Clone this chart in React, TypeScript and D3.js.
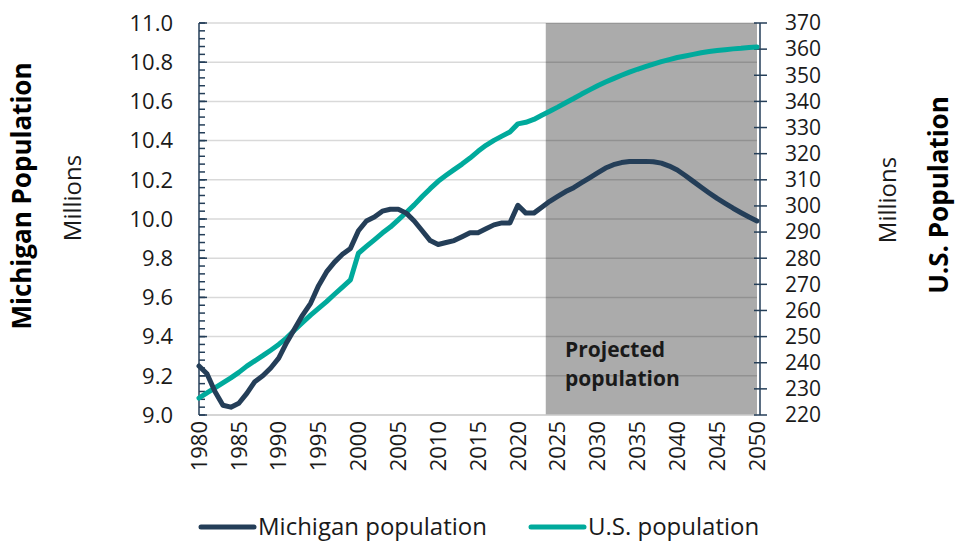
import React from 'react'
import * as d3 from 'd3'

// Michigan vs. U.S. population, 1980-2050 (projected from 2024)
const years: number[] = d3.range(1980, 2051)

const michigan: number[] = [
  9.25, 9.21, 9.12, 9.05, 9.04, 9.06, 9.11, 9.17, 9.2, 9.24,
  9.29, 9.37, 9.44, 9.51, 9.57, 9.66, 9.73, 9.78, 9.82, 9.85,
  9.94, 9.99, 10.01, 10.04, 10.05, 10.05, 10.03, 9.99, 9.94, 9.89,
  9.87, 9.88, 9.89, 9.91, 9.93, 9.93, 9.95, 9.97, 9.98, 9.98,
  10.07, 10.03, 10.03, 10.06, 10.09, 10.115, 10.14, 10.16, 10.185, 10.21,
  10.235, 10.26, 10.277, 10.288, 10.293, 10.294, 10.294, 10.292, 10.285, 10.27,
  10.25, 10.222, 10.192, 10.162, 10.133, 10.105, 10.08, 10.055, 10.032, 10.01,
  9.99,
]

const usa: number[] = [
  226.5, 228.5, 230.4, 232.3, 234.2, 236.3, 238.7, 240.7, 242.7, 244.8,
  247.0, 249.5, 252.5, 255.4, 258.2, 260.8, 263.4, 266.2, 268.9, 271.7,
  281.9, 284.5, 287.0, 289.6, 291.9, 294.7, 297.5, 300.4, 303.6, 306.6,
  309.4, 311.7, 313.9, 316.0, 318.3, 320.9, 323.2, 325.1, 326.7, 328.3,
  331.4, 332.0, 333.1, 334.7, 336.2, 337.8, 339.5, 341.1, 342.8, 344.4,
  346.0, 347.4, 348.7, 350.0, 351.2, 352.3, 353.3, 354.3, 355.2, 356.0,
  356.8, 357.4, 358.0, 358.6, 359.1, 359.5, 359.8, 360.1, 360.3, 360.6,
  360.8,
]

const leftTicks: number[] = [9.0, 9.2, 9.4, 9.6, 9.8, 10.0, 10.2, 10.4, 10.6, 10.8, 11.0]
const rightTicks: number[] = [220, 230, 240, 250, 260, 270, 280, 290, 300, 310, 320, 330, 340, 350, 360, 370]
const yearTicks: number[] = [1980, 1985, 1990, 1995, 2000, 2005, 2010, 2015, 2020, 2025, 2030, 2035, 2040, 2045, 2050]
const projectedFrom = 2023.5

const WIDTH = 955
const HEIGHT = 542
const NAVY = '#243e58'
const TEAL = '#00aa9c'
const FONT = '"Open Sans", "Noto Sans", sans-serif'

export default function App(): JSX.Element {
  const x = d3.scaleLinear().domain([1980, 2050]).range([199, 757])
  const yL = d3.scaleLinear().domain([9, 11]).range([415, 23])
  const yR = d3.scaleLinear().domain([220, 370]).range([415, 23])

  const minor = d3.range(9, 11.0001, 0.04)

  const miLine = d3
    .line<number>()
    .x((_d, i) => x(years[i]))
    .y((d) => yL(d))
  const usLine = d3
    .line<number>()
    .x((_d, i) => x(years[i]))
    .y((d) => yR(d))

  const axisX = 199
  const rAxisX = 760

  return (
    <div style={{ position: 'absolute', left: 0, top: 0 }}>
      <svg width={WIDTH} height={HEIGHT} xmlns="http://www.w3.org/2000/svg" style={{ display: 'block', fontFamily: FONT }}>
        <rect width={WIDTH} height={HEIGHT} fill="#ffffff" />

        {/* gridlines */}
        <g className="grid">
          {leftTicks.map((t) => (
            <line key={t} x1={x(1980)} x2={x(2050)} y1={yL(t)} y2={yL(t)} stroke="#d9d9d9" strokeWidth={1.5} />
          ))}
        </g>

        {/* projection shading */}
        <rect
          x={x(projectedFrom)}
          y={yL(11)}
          width={x(2050) - x(projectedFrom)}
          height={yL(9) - yL(11)}
          fill="#000000"
          fillOpacity={0.33}
        />

        {/* bottom axis line */}
        <line x1={x(1980)} x2={x(2050)} y1={yL(9)} y2={yL(9)} stroke="#d0d0d0" strokeWidth={1.5} />

        {/* left axis */}
        <g className="axis-left">
          <line x1={axisX} x2={axisX} y1={yL(11)} y2={yL(9)} stroke={NAVY} strokeWidth={1.5} />
          {minor.map((t, i) => (
            <line key={i} x1={axisX} x2={axisX + 6} y1={yL(t)} y2={yL(t)} stroke={NAVY} strokeWidth={1.5} />
          ))}
          {leftTicks.map((t) => (
            <g key={t}>
              <line x1={axisX} x2={axisX + 8} y1={yL(t)} y2={yL(t)} stroke={NAVY} strokeWidth={1.5} />
              <text x={173} y={yL(t)} dy="0.35em" textAnchor="end" fontSize={22} fill="#1a1a1a">
                {t.toFixed(1)}
              </text>
            </g>
          ))}
        </g>

        {/* right axis */}
        <g className="axis-right">
          <line x1={rAxisX} x2={rAxisX} y1={yR(370)} y2={yR(220)} stroke={NAVY} strokeWidth={1.5} />
          {rightTicks.map((t) => (
            <g key={t}>
              <line x1={rAxisX - 6} x2={rAxisX + 7} y1={yR(t)} y2={yR(t)} stroke={NAVY} strokeWidth={1.5} />
              <text x={785} y={yR(t)} dy="0.35em" textAnchor="start" fontSize={21} fill="#1a1a1a">
                {t}
              </text>
            </g>
          ))}
        </g>

        {/* x labels */}
        <g className="axis-bottom">
          {yearTicks.map((t) => (
            <text
              key={t}
              transform={`translate(${x(t)},${421}) rotate(-90)`}
              dy="0.35em"
              textAnchor="end"
              fontSize={22}
              fill="#1a1a1a"
            >
              {t}
            </text>
          ))}
        </g>

        {/* series */}
        <path d={usLine(usa) ?? ''} fill="none" stroke={TEAL} strokeWidth={5} strokeLinejoin="round" strokeLinecap="round" />
        <path d={miLine(michigan) ?? ''} fill="none" stroke={NAVY} strokeWidth={5} strokeLinejoin="round" strokeLinecap="round" />

        {/* projected label */}
        <text x={565} y={350} dy="0.35em" fontSize={21} fontWeight="bold" fill="#1a1a1a">
          Projected
        </text>
        <text x={565} y={379} dy="0.35em" fontSize={21} fontWeight="bold" fill="#1a1a1a">
          population
        </text>

        {/* axis titles */}
        <text transform="translate(22,196) rotate(-90)" dy="0.35em" textAnchor="middle" fontSize={26} fontWeight="bold" fill="#000">
          Michigan Population
        </text>
        <text transform="translate(73,198) rotate(-90)" dy="0.35em" textAnchor="middle" fontSize={24} fill="#1a1a1a">
          Millions
        </text>
        <text transform="translate(888,200) rotate(-90)" dy="0.35em" textAnchor="middle" fontSize={24} fill="#1a1a1a">
          Millions
        </text>
        <text transform="translate(939,195) rotate(-90)" dy="0.35em" textAnchor="middle" fontSize={26} fontWeight="bold" fill="#000">
          U.S. Population
        </text>

        {/* legend */}
        <g className="legend">
          <line x1={201} x2={254} y1={527} y2={527} stroke={NAVY} strokeWidth={5} strokeLinecap="round" />
          <text x={258} y={527} dy="0.35em" fontSize={24} fill="#1a1a1a">
            Michigan population
          </text>
          <line x1={531} x2={584} y1={527} y2={527} stroke={TEAL} strokeWidth={5} strokeLinecap="round" />
          <text x={588} y={527} dy="0.35em" fontSize={24} fill="#1a1a1a">
            U.S. population
          </text>
        </g>
      </svg>
    </div>
  )
}
